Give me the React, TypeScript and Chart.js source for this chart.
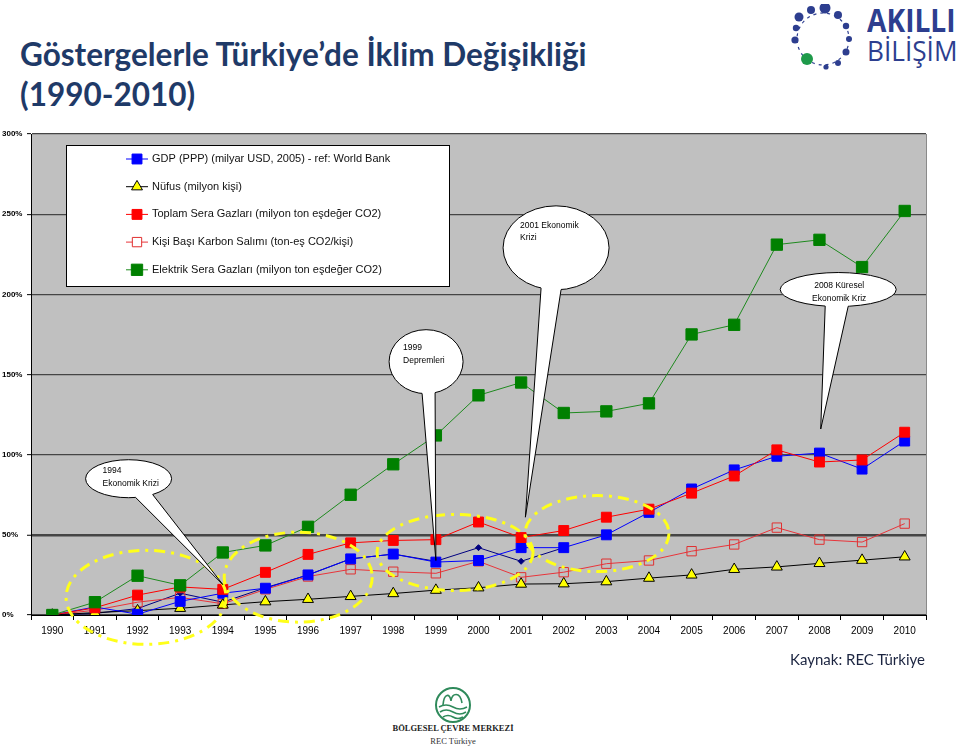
import React, { useEffect, useRef } from 'react';
import { Chart, registerables } from 'chart.js';

Chart.register(...registerables);

// ---------- data ----------
const years = ['1990', '1991', '1992', '1993', '1994', '1995', '1996', '1997', '1998', '1999', '2000',
  '2001', '2002', '2003', '2004', '2005', '2006', '2007', '2008', '2009', '2010'];

const gdpLabel = 'GDP (PPP) (milyar USD, 2005) - ref: World Bank';
const nufusLabel = 'Nüfus (milyon kişi)';
const toplamLabel = 'Toplam Sera Gazları (milyon ton eşdeğer CO2)';
const kisiBasiLabel = 'Kişi Başı Karbon Salımı (ton-eş CO2/kişi)';
const elektrikLabel = 'Elektrik Sera Gazları (milyon ton eşdeğer CO2)';

const gdpValues = [0, 5, 0.5, 8.5, 13.6, 16.7, 25, 35, 38, 33, 34, 42, 42, 50, 64, 78.6, 90.5, 99, 101, 91, 108.5];
const nufusValues = [0, 1.5, 2.7, 4.2, 6.3, 8.3, 9.8, 11.6, 13.4, 15.5, 17, 19.3, 19.5, 20.8, 23, 25, 28.5, 30, 32.2, 34.2, 36.3];
const toplamValues = [0, 4.5, 12.4, 17.5, 16, 26.6, 37.8, 45, 46.5, 47, 58, 48.3, 52.7, 61, 66, 76, 86.7, 103, 95.4, 96.7, 114];
const kisiBasiValues = [0, 3, 8, 11, 7, 16, 24, 28.5, 27, 26, 33.5, 23.5, 26.7, 32, 34, 39.8, 44, 54.5, 47, 45.5, 57];
const elektrikValues = [0, 8, 24.5, 18.5, 39, 43.4, 55, 75, 94, 112, 137, 145, 126, 127, 132, 175, 181, 231, 234, 217, 252];
const gdpEskiValues = [0, 1, 4, 13.6, 8, 17, 25, 35, 38, 33.5, 42, 33.5, 42, null, null, null, null, null, null, null, null];

const yMin = 0;
const yMax = 300;
const yStep = 50;

// callouts (bubble centre and pointer target in data units: category index, percent)
const calloutLines = [['1994', 'Ekonomik Krizi'], ['1999', 'Depremleri'], ['2001 Ekonomik', 'Krizi'], ['2008 Küresel', 'Ekonomik Kriz']];
const calloutCentres = [[1.79, 85], [8.77, 158], [11.82, 229], [18.44, 203]];
const calloutTargets = [[4.0, 19], [9.0, 34], [11.1, 61], [18.03, 116]];

// highlighted periods (yellow dash-dot ellipses), centre in data units
const highlightCentres = [[2.2, 11], [5.77, 23.6], [9.45, 39], [12.78, 50.8]];

// ---------- styles ----------
const calloutShapes = [
  { rx: 43, ry: 19, b1: 7, b2: 24, align: 'left', tx: -26, ty: [-8, 5] },
  { rx: 37, ry: 32, b1: -4, b2: 9, align: 'left', tx: -23, ty: [-14, -1] },
  { rx: 53, ry: 42, b1: -15, b2: 5, align: 'left', tx: -36, ty: [-22, -10] },
  { rx: 58, ry: 17, b1: -13, b2: 10, align: 'center', tx: 1, ty: [-4, 9] },
];
const highlightRadii = [[80, 47], [74, 45], [78, 38], [72, 38]];

function drawMarker(ctx: CanvasRenderingContext2D, style: string, x: number, y: number, r: number,
  fill: string, stroke: string, bw: number) {
  ctx.save();
  ctx.beginPath();
  if (style === 'triangle') {
    ctx.moveTo(x, y - r);
    ctx.lineTo(x + r * Math.sin(2 * Math.PI / 3), y - r * Math.cos(2 * Math.PI / 3));
    ctx.lineTo(x + r * Math.sin(4 * Math.PI / 3), y - r * Math.cos(4 * Math.PI / 3));
    ctx.closePath();
  } else if (style === 'rectRot') {
    ctx.moveTo(x, y - r); ctx.lineTo(x + r, y); ctx.lineTo(x, y + r); ctx.lineTo(x - r, y); ctx.closePath();
  } else {
    const s = Math.SQRT1_2 * r;
    ctx.rect(x - s, y - s, 2 * s, 2 * s);
  }
  if (fill && fill !== 'transparent') { ctx.fillStyle = fill; ctx.fill(); }
  ctx.lineWidth = bw; ctx.strokeStyle = stroke; ctx.stroke();
  ctx.restore();
}

const backgroundPlugin = {
  id: 'plotBackground',
  beforeDraw(chart: any) {
    const { ctx, chartArea: a } = chart;
    ctx.save();
    ctx.fillStyle = '#C0C0C0';
    ctx.fillRect(a.left, a.top, a.right - a.left, a.bottom - a.top);
    ctx.strokeStyle = '#8a8a8a';
    ctx.lineWidth = 1;
    ctx.beginPath();
    ctx.moveTo(a.right + 0.5, a.top); ctx.lineTo(a.right + 0.5, a.bottom);
    ctx.stroke();
    ctx.restore();
  },
};

const legendPlugin = {
  id: 'boxLegend',
  beforeDatasetsDraw(chart: any) {
    const { ctx, chartArea: a } = chart;
    const bx = a.left + 35, by = a.top + 11, bw = 383, bh = 141;
    ctx.save();
    ctx.fillStyle = '#fff';
    ctx.fillRect(bx, by, bw, bh);
    ctx.strokeStyle = '#000';
    ctx.lineWidth = 1;
    ctx.strokeRect(bx + 0.5, by + 0.5, bw, bh);
    const items = chart.data.datasets.filter((d: any) => d.label);
    items.forEach((ds: any, i: number) => {
      const y = by + 14 + i * 27.7;
      const mx = bx + 71;
      ctx.strokeStyle = ds.borderColor;
      ctx.lineWidth = 1;
      ctx.beginPath();
      ctx.moveTo(mx - 11, y); ctx.lineTo(mx + 11, y);
      ctx.stroke();
      const bg = ds.pointBackgroundColor === 'transparent' ? '#fff' : ds.pointBackgroundColor;
      drawMarker(ctx, ds.pointStyle, mx, y, ds.pointRadius, bg, ds.pointBorderColor, ds.pointBorderWidth);
      ctx.fillStyle = '#111';
      ctx.font = "11px 'Liberation Sans', Arial, sans-serif";
      ctx.textBaseline = 'middle';
      ctx.textAlign = 'left';
      ctx.fillText(ds.label, bx + 86, y);
    });
    ctx.restore();
  },
};

const annotationPlugin = {
  id: 'notes',
  afterDraw(chart: any) {
    const { ctx } = chart;
    const xs = chart.scales.x, ys = chart.scales.y;
    ctx.save();
    // yellow dash-dot ellipses
    highlightCentres.forEach((c, i) => {
      const cx = xs.getPixelForValue(c[0]);
      const cy = ys.getPixelForValue(c[1]);
      ctx.beginPath();
      ctx.ellipse(cx, cy, highlightRadii[i][0], highlightRadii[i][1], 0, 0, Math.PI * 2);
      ctx.setLineDash([11, 6, 3, 6]);
      ctx.lineWidth = 3;
      ctx.strokeStyle = '#FFFF1A';
      ctx.stroke();
    });
    ctx.setLineDash([]);
    // callouts
    calloutCentres.forEach((c, i) => {
      const sh = calloutShapes[i];
      const cx = xs.getPixelForValue(c[0]);
      const cy = ys.getPixelForValue(c[1]);
      const tx = xs.getPixelForValue(calloutTargets[i][0]);
      const ty = ys.getPixelForValue(calloutTargets[i][1]);
      const edge = (dx: number) => cy + sh.ry * Math.sqrt(Math.max(0, 1 - (dx / sh.rx) ** 2));
      const p1 = [cx + sh.b1, edge(sh.b1)];
      const p2 = [cx + sh.b2, edge(sh.b2)];
      ctx.lineWidth = 1;
      ctx.strokeStyle = '#000';
      ctx.fillStyle = '#fff';
      ctx.beginPath();
      ctx.ellipse(cx, cy, sh.rx, sh.ry, 0, 0, Math.PI * 2);
      ctx.fill();
      ctx.stroke();
      ctx.beginPath();
      ctx.moveTo(p1[0], p1[1] - 4);
      ctx.lineTo(p1[0], p1[1]);
      ctx.lineTo(tx, ty);
      ctx.lineTo(p2[0], p2[1]);
      ctx.lineTo(p2[0], p2[1] - 4);
      ctx.closePath();
      ctx.fill();
      ctx.beginPath();
      ctx.moveTo(p1[0], p1[1]);
      ctx.lineTo(tx, ty);
      ctx.lineTo(p2[0], p2[1]);
      ctx.stroke();
      ctx.fillStyle = '#000';
      ctx.font = "8.5px 'Liberation Sans', Arial, sans-serif";
      ctx.textBaseline = 'middle';
      ctx.textAlign = sh.align;
      calloutLines[i].forEach((t, k) => {
        ctx.fillText(t, cx + sh.tx, cy + sh.ty[k]);
      });
    });
    ctx.restore();
  },
};

function makeDataset(label: string, data: (number | null)[], color: string, style: string, r: number,
  fill: string, pointBorder: string, order: number) {
  return {
    label,
    data,
    borderColor: color,
    borderWidth: 1,
    pointStyle: style,
    pointRadius: r,
    pointHoverRadius: r,
    pointBackgroundColor: fill,
    pointBorderColor: pointBorder,
    pointBorderWidth: 1,
    tension: 0,
    fill: false,
    order,
    spanGaps: false,
  };
}

export default function App() {
  const canvasRef = useRef<HTMLCanvasElement>(null);

  useEffect(() => {
    Chart.defaults.font.family = "'Liberation Sans', Arial, sans-serif";
    const chart = new Chart(canvasRef.current as HTMLCanvasElement, {
      type: 'line',
      data: {
        labels: years,
        datasets: [
          makeDataset(gdpLabel, gdpValues, '#0000FF', 'rect', 7, '#0000FF', '#0000FF', 3),
          makeDataset(nufusLabel, nufusValues, '#000000', 'triangle', 6.3, '#FFFF00', '#000000', 4),
          makeDataset(toplamLabel, toplamValues, '#FF0000', 'rect', 7, '#FF0000', '#FF0000', 2),
          makeDataset(kisiBasiLabel, kisiBasiValues, '#E8343A', 'rect', 6.6, 'transparent', '#E03030', 5),
          makeDataset(elektrikLabel, elektrikValues, '#1E8A1E', 'rect', 8, '#008000', '#008000', 1),
          makeDataset('', gdpEskiValues, '#000080', 'rectRot', 3, '#000080', '#000080', 10),
        ] as any,
      },
      options: {
        animation: false,
        responsive: true,
        maintainAspectRatio: false,
        layout: { padding: { left: 2, top: 6, right: 14, bottom: 0 } },
        plugins: { legend: { display: false }, tooltip: { enabled: false } },
        scales: {
          x: {
            offset: true,
            grid: { display: true, offset: true, drawOnChartArea: false, drawTicks: true, tickLength: 5, tickColor: '#000' },
            border: { display: true, color: '#000', width: 1 },
            ticks: { color: '#000', font: { size: 10 }, padding: 5, maxRotation: 0, autoSkip: false },
            afterFit(scale: any) { scale.height = 40; },
          },
          y: {
            min: yMin,
            max: yMax,
            grid: {
              color: '#454545',
              lineWidth: (c: any) => (c.tick && c.tick.value === 50 ? 2.5 : 1.3),
              tickLength: 4,
              tickColor: '#000',
              tickWidth: 1,
            },
            border: { display: true, color: '#000', width: 1 },
            ticks: {
              stepSize: yStep,
              color: '#000',
              font: { size: 8, weight: 'bold' },
              crossAlign: 'far',
              callback: (v: any) => v + '%',
            },
            afterFit(scale: any) { scale.width = 29; },
          },
        },
      } as any,
      plugins: [backgroundPlugin, legendPlugin, annotationPlugin],
    });
    return () => chart.destroy();
  }, []);

  const navy = '#1F3A68';
  const logoBlue = '#2D3E8F';
  const dots: [number, number, number][] = [
    [29, 13, 4.5], [41, 6, 4], [55, 4, 5.5], [68, 11, 4], [76, 22, 3.2], [79, 35, 3],
    [76, 48, 3.5], [68, 59, 3], [56, 63, 2.6], [25, 36, 3.6], [26, 24, 3.2],
  ];

  return (
    <div style={{ position: 'absolute', left: 0, top: 0, width: 960, height: 748, background: '#fff', overflow: 'hidden' }}>
      <div style={{ position: 'absolute', left: 20, top: 39, font: "bold 31.5px Lato, 'Open Sans', sans-serif", lineHeight: '31px', color: navy, whiteSpace: 'nowrap' }}>
        Göstergelerle Türkiye’de İklim Değişikliği
      </div>
      <div style={{ position: 'absolute', left: 20, top: 79, font: "bold 31.5px Lato, 'Open Sans', sans-serif", lineHeight: '31px', color: navy, whiteSpace: 'nowrap' }}>
        (1990-2010)
      </div>

      {/* AKILLI BİLİŞİM logo */}
      <svg style={{ position: 'absolute', left: 770, top: 4 }} width={100} height={72}>
        <circle cx={53} cy={35} r={26} fill="none" stroke={logoBlue} strokeWidth={1.2} strokeDasharray="3 4" />
        {dots.map((d, i) => <circle key={i} cx={d[0]} cy={d[1]} r={d[2]} fill={logoBlue} />)}
        <circle cx={37} cy={55} r={6} fill="#1E9A4A" />
      </svg>
      <div style={{ position: 'absolute', left: 867, top: 4, font: "bold 32px 'Open Sans', sans-serif", lineHeight: '32px', color: logoBlue, transform: 'scaleX(0.88)', transformOrigin: 'left top', whiteSpace: 'nowrap' }}>
        AKILLI
      </div>
      <div style={{ position: 'absolute', left: 867, top: 37, font: "27px 'Open Sans', sans-serif", lineHeight: '27px', color: logoBlue, transform: 'scaleX(0.97)', transformOrigin: 'left top', whiteSpace: 'nowrap' }}>
        BİLİŞİM
      </div>

      <div style={{ position: 'absolute', left: 0, top: 125, width: 940, height: 530 }}>
        <canvas ref={canvasRef} />
      </div>

      <div style={{ position: 'absolute', right: 35, top: 652, font: "15px Lato, 'Open Sans', sans-serif", lineHeight: '15px', color: '#1B2440', whiteSpace: 'nowrap' }}>
        Kaynak: REC Türkiye
      </div>

      {/* REC logo */}
      <svg style={{ position: 'absolute', left: 434, top: 685 }} width={40} height={40}>
        <circle cx={19} cy={20} r={17} fill="none" stroke="#2F8A5B" strokeWidth={2} />
        <path d="M9 20 C 10 8, 16 8, 17 16 C 18 8, 26 6, 28 18" fill="none" stroke="#2F8A5B" strokeWidth={1.6} />
        <path d="M5 22 Q 12 18 19 22 T 33 22" fill="none" stroke="#2F8A5B" strokeWidth={1.6} />
        <path d="M6 27 Q 12 23 19 27 T 32 27" fill="none" stroke="#2F8A5B" strokeWidth={1.6} />
        <path d="M9 32 Q 14 29 19 32 T 29 32" fill="none" stroke="#2F8A5B" strokeWidth={1.6} />
      </svg>
      <div style={{ position: 'absolute', left: 353, width: 200, top: 723, textAlign: 'center', font: "bold 8.5px 'Liberation Serif', serif", lineHeight: '10px', color: '#222', whiteSpace: 'nowrap' }}>
        BÖLGESEL ÇEVRE MERKEZİ
      </div>
      <div style={{ position: 'absolute', left: 353, width: 200, top: 736, textAlign: 'center', font: "8.5px 'Liberation Serif', serif", lineHeight: '10px', color: '#333', whiteSpace: 'nowrap' }}>
        REC Türkiye
      </div>
    </div>
  );
}
